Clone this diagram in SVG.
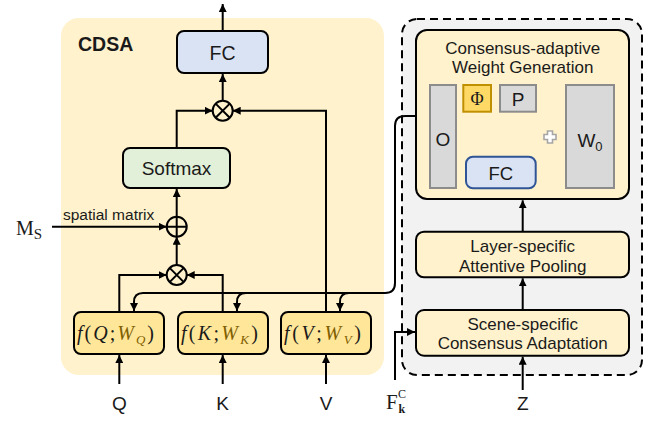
<svg xmlns="http://www.w3.org/2000/svg" width="665" height="421" viewBox="0 0 665 421">
<style>
.sans{font-family:"Liberation Sans",Arial,sans-serif;fill:#1a1a1a}
.serif{font-family:"Liberation Serif","Times New Roman",serif;fill:#1a1a1a}
.math{font-family:"Liberation Serif","Times New Roman",serif;font-style:italic;fill:#1a1a1a}
.wq{fill:#7f6000}
.ln{fill:none;stroke:#000;stroke-width:2}
.box{stroke:#000;stroke-width:2}
.gray{fill:#d9d9d9;stroke:#8c8c8c;stroke-width:2}
</style>
<defs>
<marker id="ah" markerUnits="userSpaceOnUse" markerWidth="9" markerHeight="8" refX="8" refY="4" orient="auto">
<path d="M0,0 L8,4 L0,8 z" fill="#000"/>
</marker>
</defs>
<rect x="61" y="18" width="323" height="357" rx="18" fill="#fff2cc"/>
<rect x="402" y="19" width="240" height="356" rx="15" fill="#f2f2f2" stroke="#000" stroke-width="2" stroke-dasharray="8,5"/>
<text class="sans" x="78" y="51" font-size="19.5" font-weight="bold">CDSA</text>

<g id="connectors">
<path class="ln" d="M222.7,31 V4" marker-end="url(#ah)"/>
<path class="ln" d="M222.7,100.7 V74" marker-end="url(#ah)"/>
<path class="ln" d="M176.7,148 V110.7 H212.7" marker-end="url(#ah)"/>
<path class="ln" d="M326,312 V110.7 H232.7" marker-end="url(#ah)"/>
<path class="ln" d="M176.7,216.7 V189" marker-end="url(#ah)"/>
<path class="ln" d="M52,226.7 H166.7" marker-end="url(#ah)"/>
<path class="ln" d="M176.7,265 V236.7" marker-end="url(#ah)"/>
<path class="ln" d="M119.3,312 V275 H166.7" marker-end="url(#ah)"/>
<path class="ln" d="M222.7,312 V275 H186.7" marker-end="url(#ah)"/>
<path class="ln" d="M119.3,384 V355" marker-end="url(#ah)"/>
<path class="ln" d="M222.7,384 V355" marker-end="url(#ah)"/>
<path class="ln" d="M326,384 V355" marker-end="url(#ah)"/>
<path class="ln" d="M416,116 H405 Q395,116 395,126 V283 Q395,293 385,293 H143 Q134,293 134,302 V311" marker-end="url(#ah)"/>
<path class="ln" d="M246,293 Q237,293 237,302 V311" marker-end="url(#ah)"/>
<path class="ln" d="M349,293 Q340,293 340,302 V311" marker-end="url(#ah)"/>
<path class="ln" d="M500,156.7 V133.3 H477.3 V112.5" marker-end="url(#ah)"/>
<path class="ln" d="M522.7,231.7 V200.3" marker-end="url(#ah)"/>
<path class="ln" d="M522.7,310 V278.3" marker-end="url(#ah)"/>
<path class="ln" d="M522.7,390 V356.7" marker-end="url(#ah)"/>
<path class="ln" d="M395,380 V332 H415" marker-end="url(#ah)"/>
</g>

<g id="fc-top">
<rect class="box" x="177" y="31" width="91" height="42" rx="7" fill="#dae3f3"/>
<text class="sans" x="222.5" y="60" font-size="19.5" text-anchor="middle">FC</text>
</g>
<g id="mul-top">
<circle cx="222.7" cy="110.7" r="10" fill="none" stroke="#000" stroke-width="2"/>
<path class="ln" d="M215.6,103.6 L229.8,117.8 M229.8,103.6 L215.6,117.8"/>
</g>
<g id="softmax">
<rect class="box" x="123" y="148" width="107" height="40" rx="7" fill="#e2f0d9"/>
<text class="sans" x="176.5" y="175" font-size="19" text-anchor="middle">Softmax</text>
</g>
<g id="add">
<circle cx="176.7" cy="226.7" r="10" fill="none" stroke="#000" stroke-width="2"/>
<path class="ln" d="M166.7,226.7 H186.7 M176.7,216.7 V236.7"/>
</g>
<g id="mul-bottom">
<circle cx="176.7" cy="275" r="10" fill="none" stroke="#000" stroke-width="2"/>
<path class="ln" d="M169.6,267.9 L183.8,282.1 M183.8,267.9 L169.6,282.1"/>
</g>
<text class="sans" x="63" y="219.5" font-size="15.5">spatial matrix</text>
<text class="serif" x="16" y="235" font-size="20">M<tspan font-size="15" dy="4">S</tspan></text>

<g id="fq">
<rect class="box" x="74" y="312" width="90" height="42" rx="7" fill="#ffe699"/>
<text class="math" x="77" y="340" font-size="20" textLength="77" lengthAdjust="spacing">f<tspan font-style="normal">(</tspan>Q<tspan font-style="normal">;</tspan><tspan class="wq">W</tspan><tspan class="wq" font-size="13" dy="4">Q</tspan><tspan font-style="normal" dy="-4">)</tspan></text>
</g>
<g id="fk">
<rect class="box" x="178" y="312" width="90" height="42" rx="7" fill="#ffe699"/>
<text class="math" x="181" y="340" font-size="20" textLength="77" lengthAdjust="spacing">f<tspan font-style="normal">(</tspan>K<tspan font-style="normal">;</tspan><tspan class="wq">W</tspan><tspan class="wq" font-size="13" dy="4">K</tspan><tspan font-style="normal" dy="-4">)</tspan></text>
</g>
<g id="fv">
<rect class="box" x="281" y="312" width="90" height="42" rx="7" fill="#ffe699"/>
<text class="math" x="284" y="340" font-size="20" textLength="77" lengthAdjust="spacing">f<tspan font-style="normal">(</tspan>V<tspan font-style="normal">;</tspan><tspan class="wq">W</tspan><tspan class="wq" font-size="13" dy="4">V</tspan><tspan font-style="normal" dy="-4">)</tspan></text>
</g>
<text class="sans" x="119.3" y="410" font-size="19" text-anchor="middle">Q</text>
<text class="sans" x="222.7" y="410" font-size="19" text-anchor="middle">K</text>
<text class="sans" x="326" y="410" font-size="19" text-anchor="middle">V</text>
<text class="serif" x="386" y="408.5" font-size="21">F</text>
<text class="serif" x="398.5" y="412.5" font-size="12" font-weight="bold">k</text>
<text class="serif" x="398" y="397.5" font-size="12">C</text>
<text class="sans" x="522.7" y="410" font-size="19" text-anchor="middle">Z</text>

<g id="cawg">
<rect class="box" x="416" y="30" width="213" height="169" rx="11" fill="#fff2cc"/>
<text class="sans" x="522.7" y="53.5" font-size="17" text-anchor="middle">Consensus-adaptive</text>
<text class="sans" x="522.7" y="72.5" font-size="17" text-anchor="middle">Weight Generation</text>
</g>
<g id="o-bar">
<rect class="gray" x="430" y="85" width="26" height="103"/>
<text class="sans" x="443" y="146" font-size="19" text-anchor="middle">O</text>
</g>
<g id="phi">
<rect x="463.3" y="85" width="27.7" height="26.7" fill="#ffd966" stroke="#bf9000" stroke-width="2"/>
<text class="serif" x="477.2" y="105" font-size="18" text-anchor="middle">Φ</text>
</g>
<g id="p">
<rect class="gray" x="500" y="85" width="36" height="26.7"/>
<text class="sans" x="518" y="105.5" font-size="19" text-anchor="middle">P</text>
</g>
<g id="plus-icon">
<path d="M547.5,131 H552.5 V134.5 H556 V139.5 H552.5 V143 H547.5 V139.5 H544 V134.5 H547.5 Z" fill="#fff" stroke="#a6a6a6" stroke-width="1.6"/>
</g>
<g id="w0-bar">
<rect class="gray" x="566" y="85" width="48" height="103"/>
<text class="sans" x="590" y="147" font-size="19" text-anchor="middle">W<tspan font-size="13" dy="4">0</tspan></text>
</g>
<g id="fc-inner">
<rect x="466" y="156.7" width="69.7" height="31.6" rx="7" fill="#dae3f3" stroke="#2f5597" stroke-width="2"/>
<text class="sans" x="500.8" y="179.5" font-size="18.5" text-anchor="middle">FC</text>
</g>
<g id="layer-pool">
<rect class="box" x="416" y="231.7" width="213" height="45.6" rx="8" fill="#fff2cc"/>
<text class="sans" x="522.7" y="252" font-size="17" text-anchor="middle">Layer-specific</text>
<text class="sans" x="522.7" y="272" font-size="17" text-anchor="middle">Attentive Pooling</text>
</g>
<g id="scene-adapt">
<rect class="box" x="416" y="310" width="213" height="45.7" rx="8" fill="#fff2cc"/>
<text class="sans" x="522.7" y="330" font-size="17" text-anchor="middle">Scene-specific</text>
<text class="sans" x="522.7" y="349" font-size="17" text-anchor="middle">Consensus Adaptation</text>
</g>
</svg>
